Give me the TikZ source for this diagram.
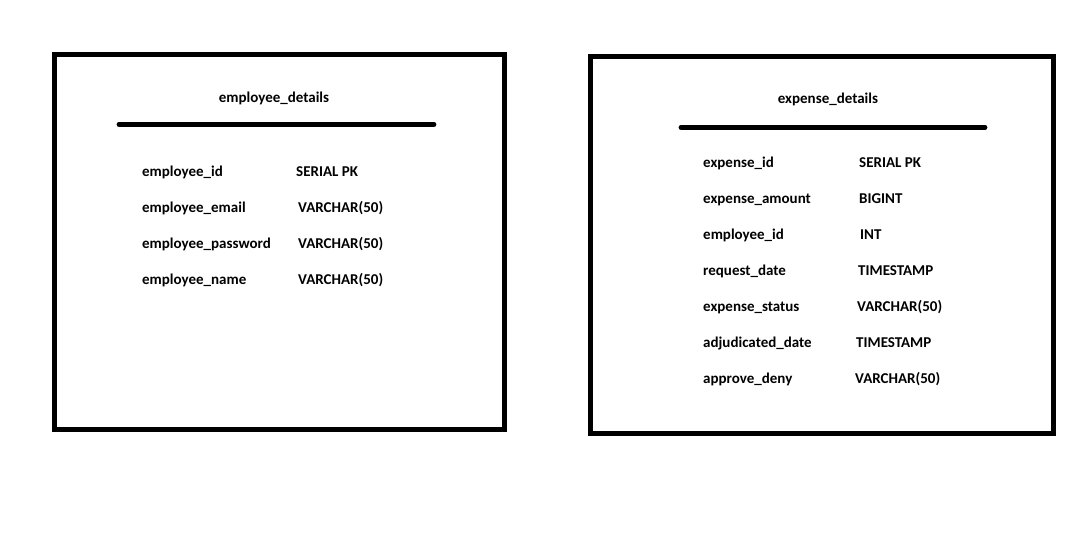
\documentclass[tikz,border=0pt]{standalone}
\usepackage{fontspec}
\setmainfont{Carlito}
\begin{document}
\begin{tikzpicture}[x=1pt,y=-1pt,
  tbox/.style={line width=5pt},
  divider/.style={line width=4.8pt,line cap=round},
  fld/.style={anchor=base west,inner sep=0pt,font=\fontsize{15}{17}\selectfont\bfseries},
  ttl/.style={anchor=base,inner sep=0pt,font=\fontsize{15}{17}\selectfont\bfseries}]
\useasboundingbox[fill=white] (0,0) rectangle (1087,535);
% left table
\draw[tbox] (54.5,54.5) rectangle (504.5,429);
\node[ttl] (t1) at (274,102.5) {employee\_details};
\coordinate (d1a) at (119,124.3);
\coordinate (d1b) at (434,124.3);
\draw[divider] (d1a) -- (d1b);
\node[fld] (n11) at (142,176.5) {employee\_id};
\node[fld] (y11) at (296,176.5) {SERIAL PK};
\node[fld] (n12) at (142,212.5) {employee\_email};
\node[fld] (y12) at (298,212.5) {VARCHAR(50)};
\node[fld] (n13) at (142,248.5) {employee\_password};
\node[fld] (y13) at (298,248.5) {VARCHAR(50)};
\node[fld] (n14) at (142,284.5) {employee\_name};
\node[fld] (y14) at (298,284.5) {VARCHAR(50)};
% right table
\draw[tbox] (590.5,56.5) rectangle (1053.5,433.5);
\node[ttl] (t2) at (828,103.5) {expense\_details};
\coordinate (d2a) at (681,127.3);
\coordinate (d2b) at (985,127.3);
\draw[divider] (d2a) -- (d2b);
\node[fld] (n21) at (703,167.5) {expense\_id};
\node[fld] (y21) at (859,167.5) {SERIAL PK};
\node[fld] (n22) at (703,203.5) {expense\_amount};
\node[fld] (y22) at (859,203.5) {BIGINT};
\node[fld] (n23) at (703,239.5) {employee\_id};
\node[fld] (y23) at (860,239.5) {INT};
\node[fld] (n24) at (703,275.5) {request\_date};
\node[fld] (y24) at (858,275.5) {TIMESTAMP};
\node[fld] (n25) at (703,311.5) {expense\_status};
\node[fld] (y25) at (857,311.5) {VARCHAR(50)};
\node[fld] (n26) at (703,347.5) {adjudicated\_date};
\node[fld] (y26) at (856,347.5) {TIMESTAMP};
\node[fld] (n27) at (703,383.5) {approve\_deny};
\node[fld] (y27) at (855,383.5) {VARCHAR(50)};
\end{tikzpicture}
\end{document}
